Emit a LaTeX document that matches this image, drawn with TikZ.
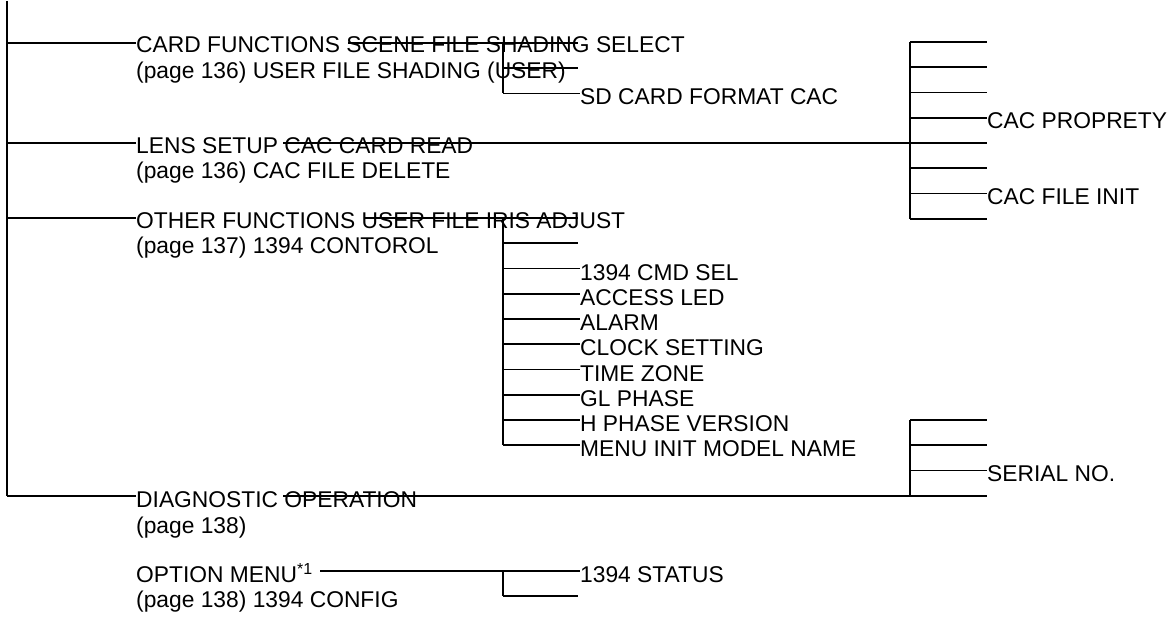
\documentclass[tikz,border=0pt]{standalone}
\usepackage{fontspec}
\setmainfont{Liberation Sans}
\usepackage{tikz}
\tikzstyle{wire} = [line width=1.9pt]

\begin{document}
\begin{tikzpicture}[x=1pt, y=-1pt, node distance=25.25pt,
menutext/.style={anchor=base west, inner sep=0pt, font=\fontsize{22.8}{25}\selectfont},
mainlabel/.style={menutext, xshift=129pt, yshift=-10pt},
sublabel/.style={menutext, xshift=77pt, yshift=-11.5pt},
rightlabel/.style={menutext, xshift=77pt, yshift=-11pt},]
\useasboundingbox (0,0) rectangle (1168,618);
\coordinate (trunk) at (7,1);
\coordinate (card) at (7,43);
\coordinate (lens) at (7,143);
\coordinate (other) at (7,218);
\coordinate (diag) at (7,496);
\coordinate (subend) at (578,0);
\coordinate (rightend) at (987,0);
\node[mainlabel](cardtxt) at (card) {CARD FUNCTIONS SCENE FILE SHADING SELECT};
\node[menutext](cardpage) at ([yshift=-25pt]cardtxt.base west) {(page 136) USER FILE SHADING (USER)};
\node[mainlabel](lenstxt) at (lens) {LENS SETUP CAC CARD READ};
\node[menutext](lenspage) at ([yshift=-25.5pt]lenstxt.base west) {(page 136) CAC FILE DELETE};
\node[mainlabel](othertxt) at (other) {OTHER FUNCTIONS USER FILE IRIS ADJUST};
\node[menutext](otherpage) at ([yshift=-25pt]othertxt.base west) {(page 137) 1394 CONTOROL};
\node[mainlabel, yshift=-1.5pt](diagtxt) at (diag) {DIAGNOSTIC OPERATION};
\node[menutext](diagpage) at ([yshift=-26pt]diagtxt.base west) {(page 138)};
\node[menutext](optiontxt) at (136,582) {OPTION MENU\textsuperscript{*1}};
\node[menutext](optionpage) at ([yshift=-25pt]optiontxt.base west) {(page 138) 1394 CONFIG};
\draw[wire] (trunk) -- (diag);
\draw[wire] (card) -- (card -| cardtxt.west);
\draw[wire] (lens) -- (lens -| lenstxt.west);
\draw[wire] (other) -- (other -| othertxt.west);
\draw[wire] (diag) -- (diag -| diagtxt.west);
\coordinate (cardstrike) at (348,43);
\coordinate (c0) at (503,43);
\coordinate [below of=c0] (c1);
\coordinate [below of=c1] (c2);
\node[sublabel](sdcard) at (c2) {SD CARD FORMAT CAC};
\draw[wire] (cardstrike) -- (c0 -| subend);
\draw[wire] (c0) -- (c2);
\draw[wire] (c1) -- (c1 -| subend);
\draw[wire] (c2) -- (c2 -| sdcard.west);
\coordinate (lensstrike) at (283,143);
\coordinate (r0) at (910,42);
\coordinate [below of=r0] (r1);
\coordinate [below of=r1] (r2);
\coordinate [below of=r2] (r3);
\coordinate [below of=r3] (r4);
\coordinate [below of=r4] (r5);
\coordinate [below of=r5] (r6);
\coordinate [below of=r6] (r7);
\node[rightlabel](cacprop) at (r3) {CAC PROPRETY};
\node[rightlabel](cacinit) at (r6) {CAC FILE INIT};
\draw[wire] (lensstrike) -- (lensstrike -| rightend);
\draw[wire] (r0) -- (r7);
\draw[wire] (r0) -- (r0 -| rightend);
\draw[wire] (r1) -- (r1 -| rightend);
\draw[wire] (r2) -- (r2 -| rightend);
\draw[wire] (r3) -- (r3 -| cacprop.west);
\draw[wire] (r5) -- (r5 -| rightend);
\draw[wire] (r6) -- (r6 -| cacinit.west);
\draw[wire] (r7) -- (r7 -| rightend);
\coordinate (otherstrike) at (364,218);
\coordinate (o0) at (503,218);
\coordinate [below of=o0] (o1);
\coordinate [below of=o1] (o2);
\coordinate [below of=o2] (o3);
\coordinate [below of=o3] (o4);
\coordinate [below of=o4] (o5);
\coordinate [below of=o5] (o6);
\coordinate [below of=o6] (o7);
\coordinate [below of=o7] (o8);
\coordinate [below of=o8] (o9);
\node[sublabel](cmdsel) at (o2) {1394 CMD SEL};
\node[sublabel](accessled) at (o3) {ACCESS LED};
\node[sublabel](alarm) at (o4) {ALARM};
\node[sublabel](clock) at (o5) {CLOCK SETTING};
\node[sublabel](timezone) at (o6) {TIME ZONE};
\node[sublabel](glphase) at (o7) {GL PHASE};
\node[sublabel](hphase) at (o8) {H PHASE VERSION};
\node[sublabel](menuinit) at (o9) {MENU INIT MODEL NAME};
\draw[wire] (otherstrike) -- (o0 -| subend);
\draw[wire] (o0) -- (o9);
\draw[wire] (o1) -- (o1 -| subend);
\draw[wire] (o2) -- (o2 -| cmdsel.west);
\draw[wire] (o3) -- (o3 -| accessled.west);
\draw[wire] (o4) -- (o4 -| alarm.west);
\draw[wire] (o5) -- (o5 -| clock.west);
\draw[wire] (o6) -- (o6 -| timezone.west);
\draw[wire] (o7) -- (o7 -| glphase.west);
\draw[wire] (o8) -- (o8 -| hphase.west);
\draw[wire] (o9) -- (o9 -| menuinit.west);
\coordinate (diagstrike) at (283,496);
\coordinate (s0) at (910,420);
\coordinate [below of=s0] (s1);
\coordinate [below of=s1] (s2);
\coordinate [below of=s2] (s3);
\node[rightlabel](serial) at (s2) {SERIAL NO.};
\draw[wire] (diagstrike) -- (diagstrike -| rightend);
\draw[wire] (s0) -- (s3);
\draw[wire] (s0) -- (s0 -| rightend);
\draw[wire] (s1) -- (s1 -| rightend);
\draw[wire] (s2) -- (s2 -| serial.west);
\coordinate (optionline) at (320,571);
\coordinate (p0) at (503,571);
\coordinate [below of=p0] (p1);
\node[sublabel](status) at (p0) {1394 STATUS};
\draw[wire] (optionline) -- (p0 -| status.west);
\draw[wire] (p0) -- (p1);
\draw[wire] (p1) -- (p1 -| subend);
\end{tikzpicture}
\end{document}
